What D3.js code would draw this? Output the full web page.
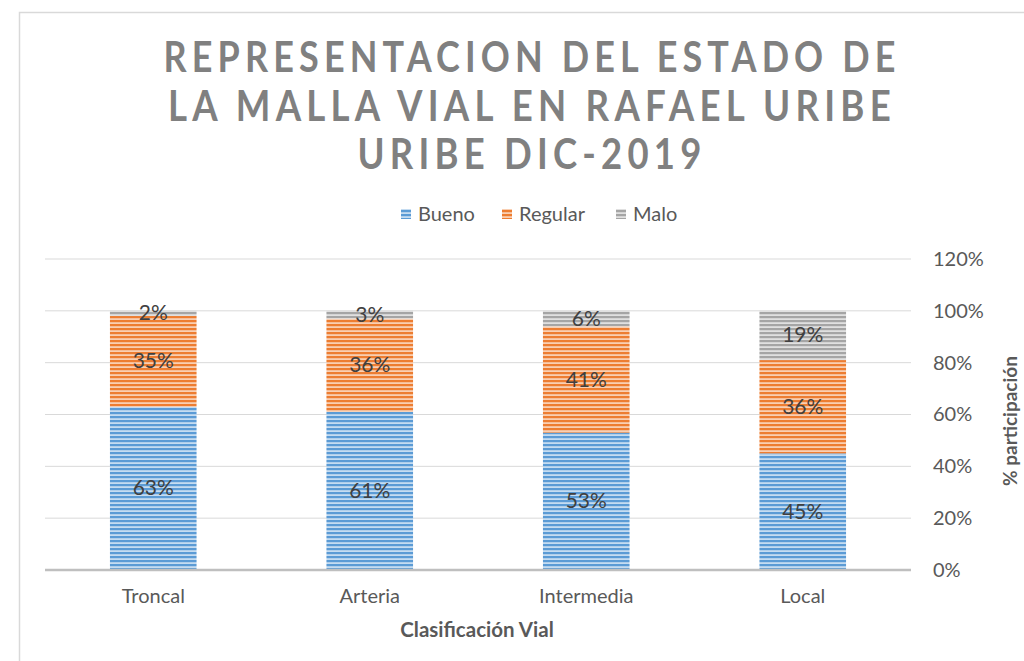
<!DOCTYPE html>
<html>
<head>
<meta charset="utf-8">
<script src="https://cdn.jsdelivr.net/npm/d3@7"></script>
<style>
  body { margin: 0; background: #fff; }
  text { font-family: Lato, "Open Sans", sans-serif; }
</style>
</head>
<body>
<script>
"use strict";
// data
var categories = ["Troncal", "Arteria", "Intermedia", "Local"];
var seriesNames = ["Bueno", "Regular", "Malo"];
var bueno = [63, 61, 53, 45];
var regular = [35, 36, 41, 36];
var malo = [2, 3, 6, 19];
var yTicks = [0, 20, 40, 60, 80, 100, 120];
var titleLines = ["REPRESENTACION DEL ESTADO DE", "LA MALLA VIAL EN RAFAEL URIBE", "URIBE DIC-2019"];

var width = 1024, height = 661;
var colors = { Bueno: ["#5B9BD5", "#C5DCF1"], Regular: ["#ED7D31", "#F9CFB2"], Malo: ["#A5A5A5", "#E0E0E0"] };

var svg = d3.select("body").append("svg").attr("width", width).attr("height", height);

// chart frame
svg.append("rect").attr("x", 19.5).attr("y", 12.5).attr("width", 1020).attr("height", 660)
  .attr("fill", "#fff").attr("stroke", "#D9D9D9").attr("stroke-width", 1.5);

// striped fill patterns
var defs = svg.append("defs");
seriesNames.forEach(function (s) {
  var p = defs.append("pattern").attr("id", "pat-" + s).attr("patternUnits", "userSpaceOnUse")
    .attr("width", 8).attr("height", 4);
  p.append("rect").attr("width", 8).attr("height", 4).attr("fill", colors[s][1]);
  p.append("rect").attr("y", 0).attr("width", 8).attr("height", 2.2).attr("fill", colors[s][0]);
});

// title
var title = svg.append("text").attr("text-anchor", "middle").attr("fill", "#808080")
  .style("font-weight", "bold").style("font-size", "42px").style("letter-spacing", "6px");
var titleWidths = [737, 728, 349];
titleLines.forEach(function (t, i) {
  title.append("tspan").attr("x", 532).attr("y", 72 + i * 48.5)
    .attr("textLength", titleWidths[i]).attr("lengthAdjust", "spacingAndGlyphs").text(t);
});

// scales
var x = d3.scaleBand().domain(categories).range([45, 911]).paddingInner(0.6).paddingOuter(0.3);
var y = d3.scaleLinear().domain([0, 120]).range([570, 259]);

// gridlines
svg.append("g").selectAll("line").data(yTicks.slice(1)).join("line")
  .attr("x1", 45).attr("x2", 911).attr("y1", function (d) { return y(d); }).attr("y2", function (d) { return y(d); })
  .attr("stroke", "#D9D9D9").attr("stroke-width", 1);

// stacked bars
var rows = categories.map(function (c, i) { return { cat: c, Bueno: bueno[i], Regular: regular[i], Malo: malo[i] }; });
var stack = d3.stack().keys(seriesNames)(rows);

var layers = svg.append("g").selectAll("g").data(stack).join("g")
  .attr("fill", function (d) { return "url(#pat-" + d.key + ")"; });
layers.selectAll("rect").data(function (d) { return d; }).join("rect")
  .attr("x", function (d) { return x(d.data.cat); })
  .attr("width", x.bandwidth())
  .attr("y", function (d) { return y(d[1]); })
  .attr("height", function (d) { return y(d[0]) - y(d[1]); });

// data labels
layers.selectAll("text").data(function (d) { return d; }).join("text")
  .attr("x", function (d) { return x(d.data.cat) + x.bandwidth() / 2; })
  .attr("y", function (d) { return (y(d[0]) + y(d[1])) / 2 + 7; })
  .attr("text-anchor", "middle").attr("fill", "#404040").style("font-size", "21px")
  .text(function (d) { return (d[1] - d[0]) + "%"; });

// x axis
var xAxis = svg.append("g").attr("transform", "translate(0,570)")
  .call(d3.axisBottom(x).tickSize(0).tickPadding(19));
xAxis.select(".domain").attr("stroke", "#BFBFBF").attr("stroke-width", 2.5).attr("d", "M45,0H911");
xAxis.selectAll("text").attr("fill", "#595959").style("font-size", "20px").style("font-family", "Lato, sans-serif");

// y axis on the right
var yAxis = svg.append("g").attr("transform", "translate(933,0)")
  .call(d3.axisRight(y).tickValues(yTicks).tickSize(0).tickPadding(0).tickFormat(function (d) { return d + "%"; }));
yAxis.select(".domain").remove();
yAxis.selectAll("text").attr("fill", "#595959").style("font-size", "20px").style("font-family", "Lato, sans-serif");

// axis titles
svg.append("text").attr("x", 477).attr("y", 637).attr("text-anchor", "middle")
  .attr("fill", "#595959").style("font-weight", "bold").style("font-size", "20.5px").text("Clasificación Vial");
svg.append("text").attr("transform", "translate(1017,421) rotate(-90)").attr("text-anchor", "middle")
  .attr("fill", "#595959").style("font-weight", "bold").style("font-size", "19px").text("% participación");

// legend
var legendX = [401, 502, 616];
var legend = svg.append("g").selectAll("g").data(seriesNames).join("g")
  .attr("transform", function (d, i) { return "translate(" + legendX[i] + ",214)"; });
legend.append("rect").attr("x", 0).attr("y", -5).attr("width", 10).attr("height", 10)
  .attr("fill", function (d) { return "url(#pat-" + d + ")"; });
legend.append("text").attr("x", 17).attr("y", 7).attr("fill", "#595959").style("font-size", "20px")
  .text(function (d) { return d; });
</script>
</body>
</html>
